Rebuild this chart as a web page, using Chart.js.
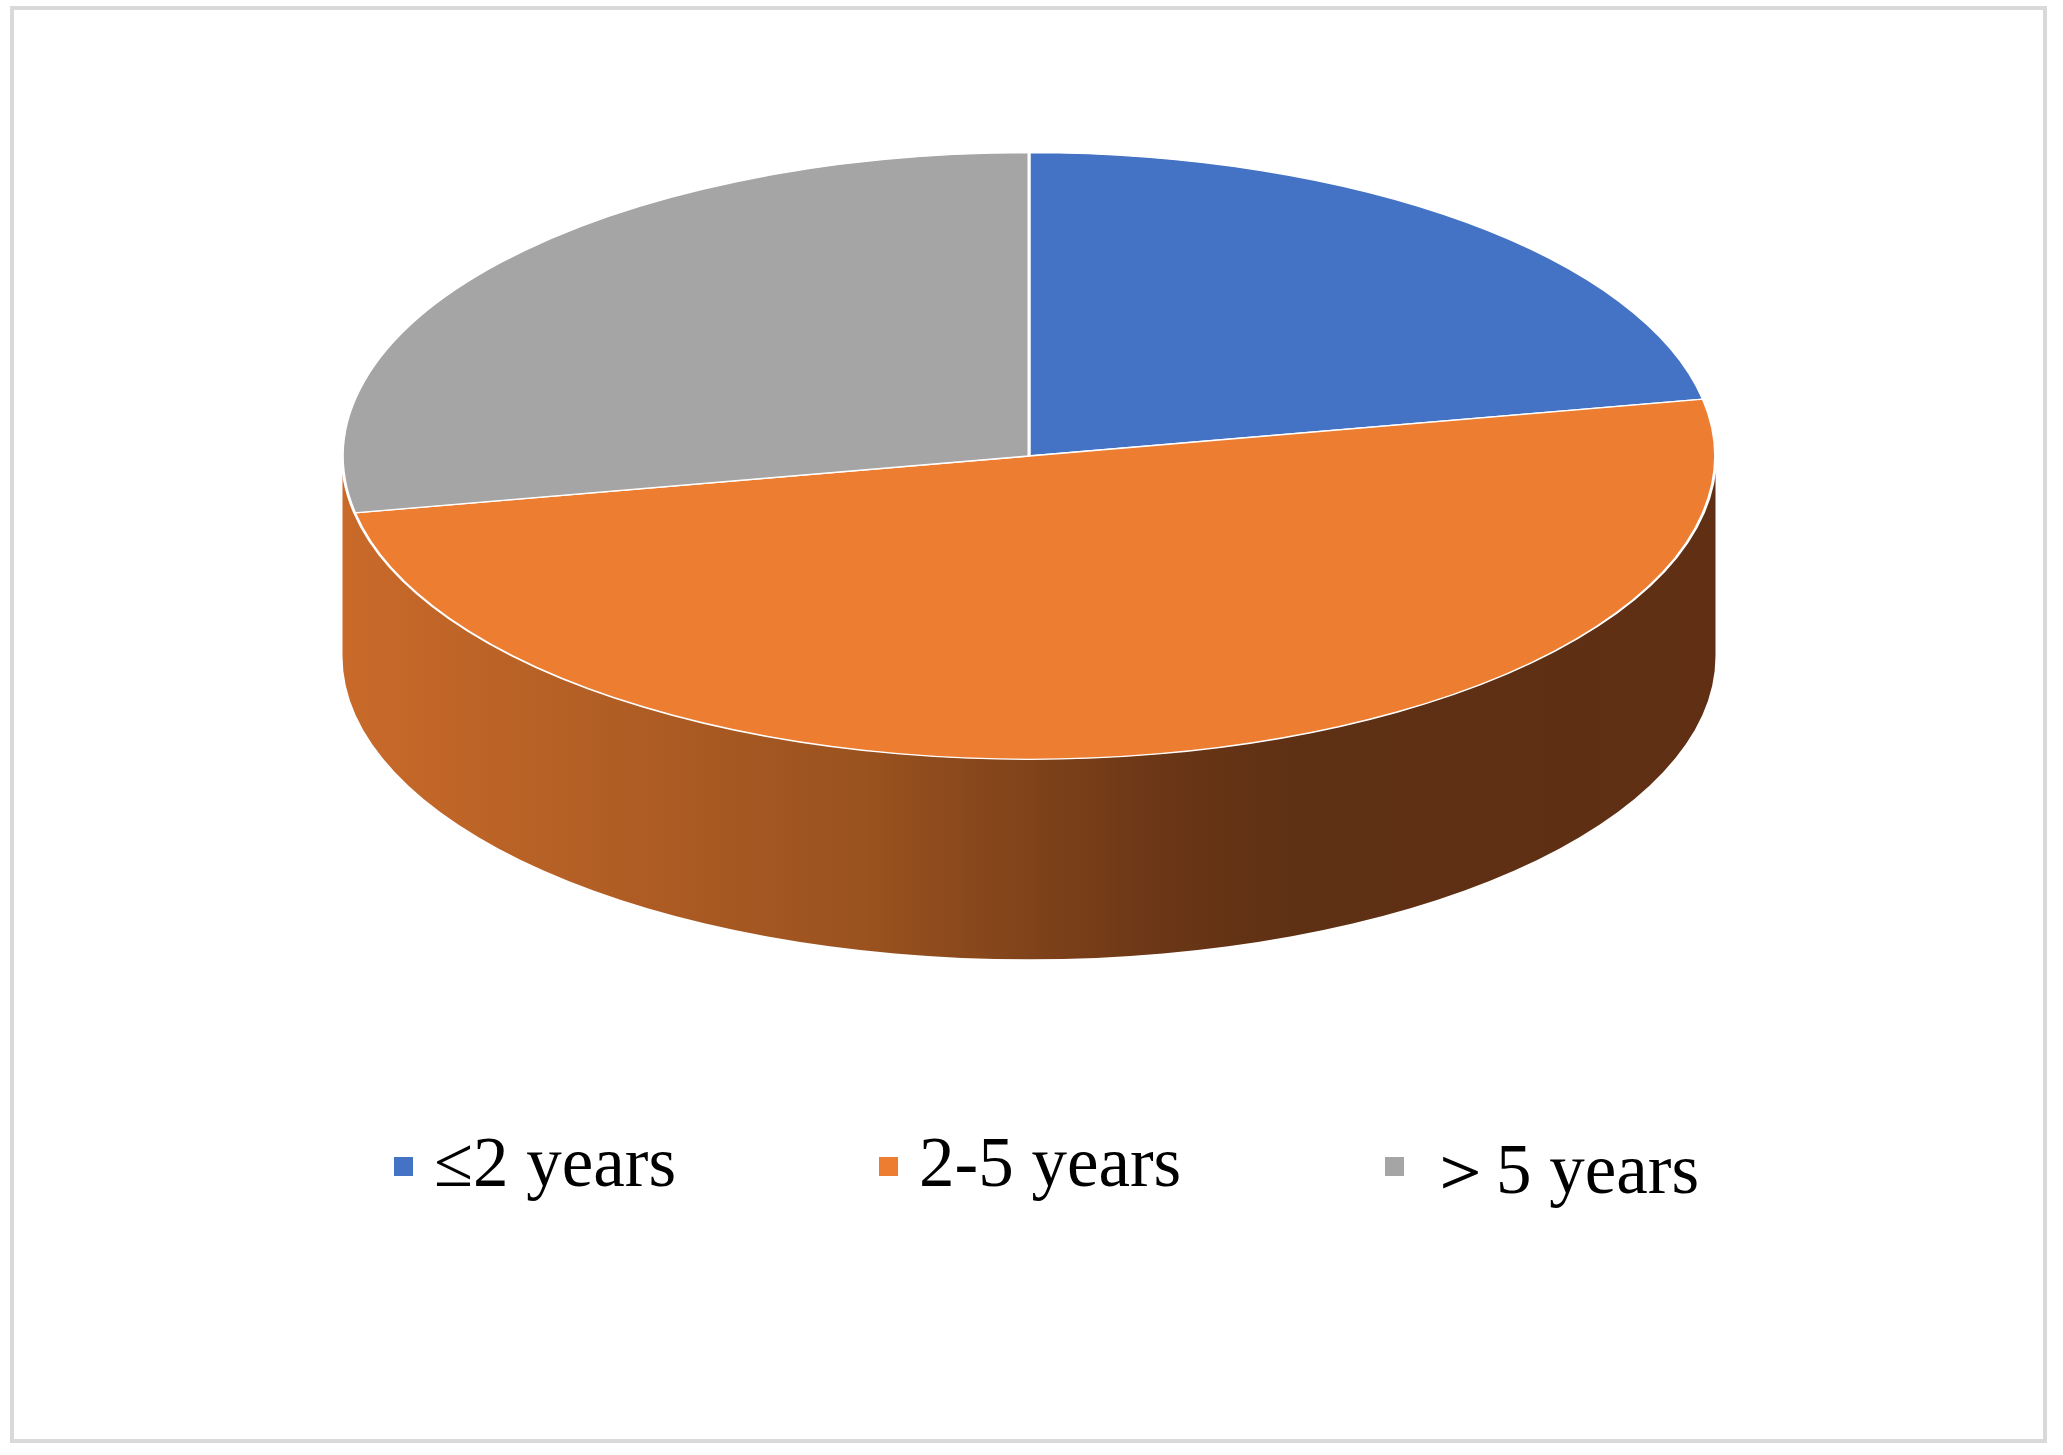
<!DOCTYPE html>
<html>
<head>
<meta charset="utf-8">
<script src="https://cdn.jsdelivr.net/npm/chart.js@4/dist/chart.umd.min.js"></script>
<style>
  body { margin: 0; background: #fff; }
  #wrap { position: relative; width: 2063px; height: 1455px; }
  #frame { position: absolute; left: 10px; top: 6px; width: 2037px; height: 1437px; border: 4px solid #d9d9d9; box-sizing: border-box; }
  canvas { position: absolute; left: 0; top: 0; }
  .leg { position: absolute; top: 1122px; font-family: "Liberation Serif", serif; font-size: 71px; color: #000; white-space: nowrap; }
  .sw { position: absolute; width: 19px; height: 19px; top: 1157px; }
</style>
</head>
<body>
<div id="wrap">
  <div id="frame"></div>
  <canvas id="pie" width="2063" height="1455"></canvas>
</div>
<script>
const labels = ['≤2 years', '2-5 years', '＞5 years'];
const values = [22, 50, 28];
const colors = ['#4472c4', '#ed7d31', '#a5a5a5'];

// legend (drawn as html text)
const legendX = [394, 879, 1385];
labels.forEach((l, i) => {
    let sw = document.createElement('div');
    sw.className = 'sw';
    sw.style.left = legendX[i] + 'px';
    sw.style.background = colors[i];
    document.getElementById('wrap').appendChild(sw);
    let t = document.createElement('div');
    t.className = 'leg';
    t.style.left = (legendX[i] + 40) + 'px';
    t.textContent = l;
    document.getElementById('wrap').appendChild(t);
});

// squash the flat pie into a tilted disc with a side wall
const targetY = 456, squash = 304 / 688, depth = 200;
const tiltPlugin = {
    id: 'tilt',
    beforeDatasetsDraw(chart) {
        const ctx = chart.ctx;
        const arcs = chart.getDatasetMeta(0).data;
        const cx = arcs[0].x, cy = arcs[0].y, r = arcs[0].outerRadius;
        ctx.save();
        ctx.translate(0, targetY);
        ctx.scale(1, squash);
        ctx.translate(0, -cy);
        // side wall (front half only), all of it belongs to the orange slice
        const d = depth / squash;
        const grad = ctx.createLinearGradient(cx - r, 0, cx + r, 0);
        grad.addColorStop(0, '#c96a2a');
        grad.addColorStop(0.38, '#9a521f');
        grad.addColorStop(0.6, '#6a3616');
        grad.addColorStop(0.7, '#5e3014');
        grad.addColorStop(1, '#602f14');
        ctx.beginPath();
        ctx.arc(cx, cy, r, 0, Math.PI);
        ctx.arc(cx, cy + d, r, Math.PI, 0, true);
        ctx.closePath();
        ctx.fillStyle = grad;
        ctx.fill();
    },
    afterDatasetsDraw(chart) {
        chart.ctx.restore();
    }
};

new Chart(document.getElementById('pie').getContext('2d'), {
    type: 'pie',
    data: {
        labels: labels,
        datasets: [{
            data: values,
            backgroundColor: colors,
            borderColor: '#ffffff',
            borderWidth: 3
        }]
    },
    options: {
        responsive: false,
        animation: false,
        layout: { padding: { left: 341, right: 346, top: 0, bottom: 79 } },
        plugins: { legend: { display: false }, tooltip: { enabled: false } }
    },
    plugins: [tiltPlugin]
});
</script>
</body>
</html>
